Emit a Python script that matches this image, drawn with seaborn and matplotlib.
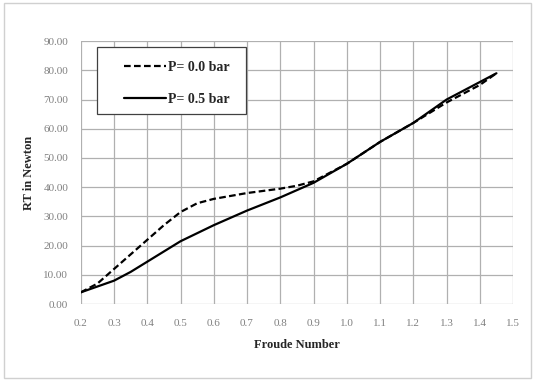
import numpy as np
import pandas as pd
import matplotlib
matplotlib.use("Agg")
import matplotlib.pyplot as plt
import seaborn as sns
from matplotlib.lines import Line2D
from matplotlib.patches import Rectangle

# Froude number vs total resistance
froude_p0 = [0.20, 0.25, 0.30, 0.35, 0.40, 0.45, 0.50, 0.55, 0.60, 0.70, 0.80, 0.85, 0.90, 1.00, 1.10, 1.20, 1.30, 1.40, 1.45]
rt_p0 = [4.0, 7.0, 12.0, 17.0, 22.0, 27.0, 31.5, 34.5, 36.0, 38.0, 39.5, 40.5, 42.0, 48.0, 55.5, 62.0, 69.0, 75.0, 79.0]

froude_p5 = [0.20, 0.25, 0.30, 0.35, 0.40, 0.45, 0.50, 0.60, 0.70, 0.80, 0.90, 1.00, 1.10, 1.20, 1.30, 1.40, 1.45]
rt_p5 = [4.0, 6.0, 8.0, 11.0, 14.5, 18.0, 21.5, 27.0, 32.0, 36.5, 41.5, 48.0, 55.5, 62.0, 70.0, 76.0, 79.0]

x_ticks = [0.2, 0.3, 0.4, 0.5, 0.6, 0.7, 0.8, 0.9, 1.0, 1.1, 1.2, 1.3, 1.4, 1.5]
y_ticks = [0, 10, 20, 30, 40, 50, 60, 70, 80, 90]

df = pd.concat([
    pd.DataFrame({"Fr": froude_p0, "RT": rt_p0, "P": "P= 0.0 bar"}),
    pd.DataFrame({"Fr": froude_p5, "RT": rt_p5, "P": "P= 0.5 bar"}),
])

sns.set_style("white")
plt.rcParams["font.family"] = ["Liberation Serif", "DejaVu Serif"]

fig = plt.figure(figsize=(5.35, 3.81), dpi=100)
fig.patch.set_facecolor("white")
fig.patches.append(Rectangle((0.008, 0.008), 0.984, 0.984, transform=fig.transFigure,
                             fill=False, edgecolor="#d0d0d0", linewidth=1.0))
ax = fig.add_axes([0.151, 0.202, 0.808, 0.69])

sns.lineplot(data=df, x="Fr", y="RT", hue="P", style="P",
             palette={"P= 0.0 bar": "black", "P= 0.5 bar": "black"},
             dashes={"P= 0.0 bar": (3, 1.5), "P= 0.5 bar": ""},
             linewidth=1.6, legend=False, ax=ax, sort=False)

ax.set_xlim(0.2, 1.5)
ax.set_ylim(0, 90)
ax.set_xticks(x_ticks)
ax.set_xticklabels([f"{t:.1f}" for t in x_ticks])
ax.set_yticks(y_ticks)
ax.set_yticklabels([f"{t:.2f}" for t in y_ticks])
ax.grid(True, color="#b0b0b0", linewidth=0.9)
for s in ax.spines.values():
    s.set_visible(False)
ax.tick_params(axis="both", labelsize=8, colors="#808080", length=3, width=0.8,
               direction="out", pad=8)
ax.tick_params(axis="y", pad=6)
ax.set_xlabel("Froude Number", fontsize=9, fontweight="bold", labelpad=8)
ax.set_ylabel("RT in Newton", fontsize=9, fontweight="bold", labelpad=6)

# legend box drawn separately (wide Excel-style frame)
ax.add_patch(Rectangle((0.037, 0.722), 0.345, 0.255, transform=ax.transAxes,
                       fill=True, facecolor="white", edgecolor="#404040",
                       linewidth=0.9, zorder=5))
handles = [Line2D([], [], color="black", linestyle=(0, (3, 1.5)), linewidth=1.6),
           Line2D([], [], color="black", linestyle="-", linewidth=1.6)]
leg = ax.legend(handles, ["P= 0.0 bar", "P= 0.5 bar"], loc="upper left",
                bbox_to_anchor=(0.074, 0.968), frameon=False, handlelength=3.0,
                handletextpad=0.15, labelspacing=1.4, borderpad=0.3,
                prop={"size": 10, "weight": "bold"})
leg.set_zorder(6)

fig.savefig("out.png", dpi=100, facecolor="white")
